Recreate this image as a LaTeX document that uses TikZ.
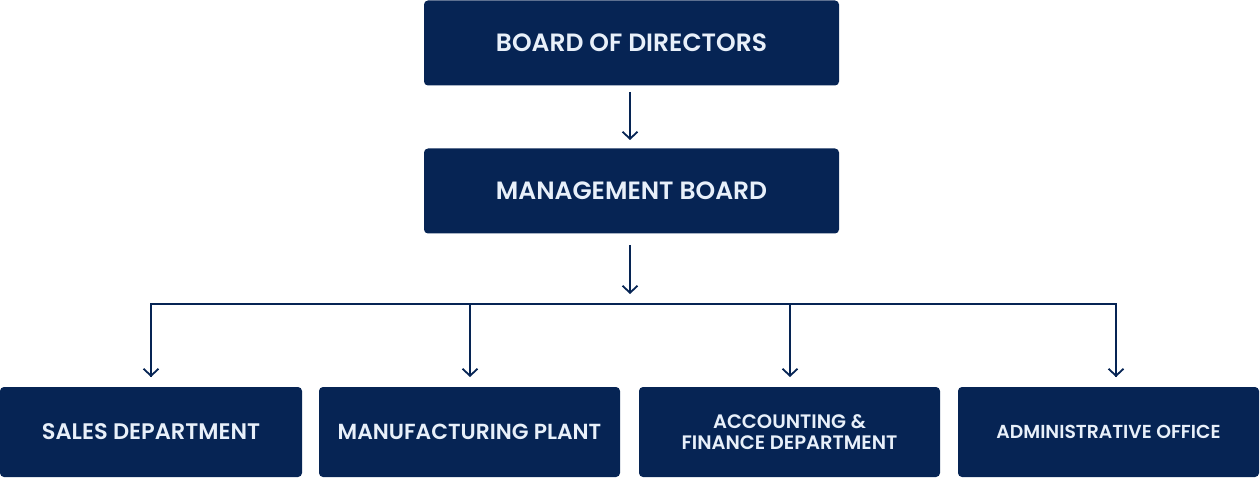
\documentclass[tikz,border=0pt]{standalone}
\usepackage{fontspec}
\setmainfont{Poppins}[UprightFont=*-SemiBold]
\usetikzlibrary{arrows.meta}
\definecolor{navy}{RGB}{6,36,84}
\definecolor{boxtext}{RGB}{232,240,250}
\tikzset{
  box/.style={fill=navy, rounded corners=4pt, text=boxtext, align=center, inner sep=0pt, font=\fontsize{25}{28}\selectfont},
  conn/.style={draw=navy, line width=1.8pt, -{Straight Barb[length=7pt,width=15pt,line width=1.8pt]}},
  plain/.style={draw=navy, line width=1.8pt}
}
\begin{document}
\begin{tikzpicture}[x=1pt,y=-1pt]
\useasboundingbox (0,0) rectangle (1260,478);
\node[box, minimum width=415pt, minimum height=85pt] (bod) at (631.5,43) {BOARD OF DIRECTORS};
\node[box, minimum width=415pt, minimum height=85pt] (mb) at (631.5,191) {MANAGEMENT BOARD};
\node[box, minimum width=302pt, minimum height=90pt, font=\fontsize{22.5}{26}\selectfont] (sales) at (151,432) {SALES DEPARTMENT};
\node[box, minimum width=301pt, minimum height=90pt, font=\fontsize{21.8}{26}\selectfont] (manu) at (469.5,432) {MANUFACTURING PLANT};
\node[box, minimum width=301pt, minimum height=90pt, font=\fontsize{19.5}{21}\selectfont] (acc) at (789.5,432) {ACCOUNTING \&\\FINANCE DEPARTMENT};
\node[box, minimum width=301pt, minimum height=90pt, font=\fontsize{18.8}{22}\selectfont] (adm) at (1108.5,432) {ADMINISTRATIVE OFFICE};
\coordinate (a1s) at (630,92);
\coordinate (a1e) at (630,140);
\coordinate (a2s) at (630,245);
\coordinate (a2e) at (630,294);
\coordinate (hl) at (151,304);
\coordinate (hr) at (1116,304);
\draw[conn] (a1s) -- (a1e);
\draw[conn] (a2s) -- (a2e);
\draw[plain, line join=miter] (151,377) -- (hl) -- (hr) -- (1116,377);
\draw[conn] (hl) -- (151,377);
\draw[conn] (470,304) -- (470,377);
\draw[conn] (790,304) -- (790,377);
\draw[conn] (hr) -- (1116,377);
\end{tikzpicture}
\end{document}
